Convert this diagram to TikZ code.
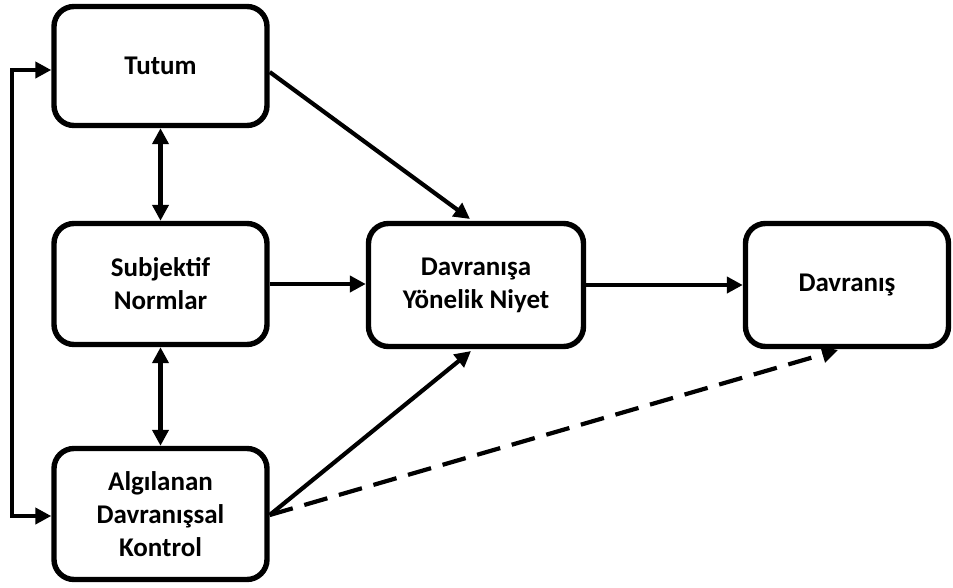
\documentclass[tikz,border=0pt]{standalone}
\usepackage{fontspec}
\setmainfont{Carlito}
\usetikzlibrary{arrows.meta}
\begin{document}
\begin{tikzpicture}[x=1pt,y=-1pt,
  box/.style={draw,line width=5.4pt,rounded corners=20pt,align=center,font=\fontsize{27}{33}\selectfont\bfseries,inner sep=0pt},
  conn/.style={line width=4.2pt,-{Triangle[length=16pt,width=16pt]}},
  dconn/.style={line width=4.2pt,{Triangle[length=16pt,width=16pt]}-{Triangle[length=16pt,width=16pt]}}]
\useasboundingbox (0,0) rectangle (953,587);
\node[box,minimum width=213pt,minimum height=119pt] (tutum) at (160.5,66) {Tutum};
\node[box,minimum width=213pt,minimum height=121pt] (sn) at (160.5,284) {Subjektif\\Normlar};
\node[box,minimum width=213pt,minimum height=131pt] (abk) at (160.5,514) {Algılanan\\Davranışsal\\Kontrol};
\node[box,minimum width=215pt,minimum height=123pt] (niyet) at (476,285) {Davranışa\\Yönelik Niyet};
\node[box,minimum width=203pt,minimum height=123pt] (dav) at (847,285) {Davranış};
\coordinate (l1) at (12,70);
\coordinate (l2) at (12,516);
\draw[conn] (l2) -- (l1) -- (l1 -| tutum.west);
\draw[conn] (l1) -- (l2) -- (l2 -| abk.west);
\draw[dconn] (tutum.south) -- (sn.north);
\draw[dconn] (sn.south) -- (abk.north);
\draw[conn] (tutum.east |- 0,72) -- (470,219);
\draw[conn] (sn.east) -- (sn.east -| niyet.west);
\draw[conn] (abk.east |- 0,515) -- (471,351);
\draw[conn] (niyet.east) -- (niyet.east -| dav.west);
\draw[line width=4.2pt,dash pattern=on 24pt off 12pt,-{Triangle[length=16pt,width=16pt]}] (abk.east |- 0,515) -- (838,350);
\end{tikzpicture}
\end{document}
